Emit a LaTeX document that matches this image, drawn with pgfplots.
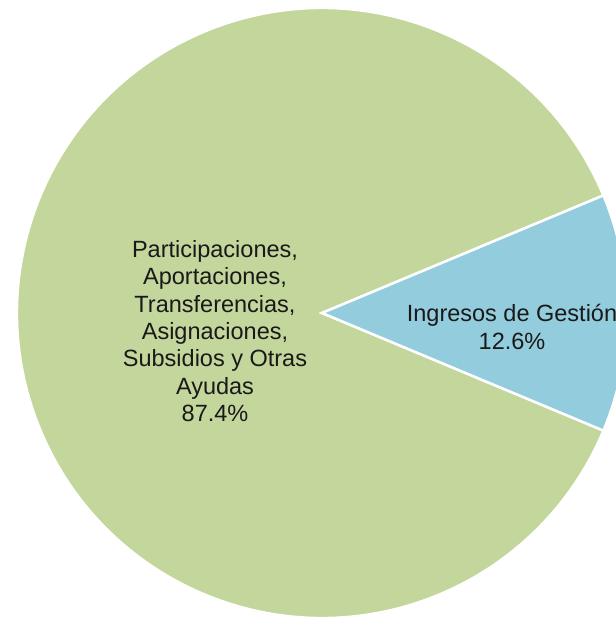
\documentclass[border=0pt]{standalone}
\usepackage{pgfplots}
\pgfplotsset{compat=1.18}
\usepackage{pgfplotstable}
\usepackage{fontspec}
\setmainfont{Liberation Sans}

\definecolor{pieGreen}{HTML}{C3D69B}
\definecolor{pieBlue}{HTML}{93CDDD}

% slice shares (percent)
\pgfplotstableread[col sep=comma]{
label,value
Ingresos,12.6
Participaciones,87.4
}\piedata

\begin{document}
\begin{tikzpicture}
\pgfplotstablegetelem{0}{value}\of\piedata \let\vIng\pgfplotsretval
\pgfplotstablegetelem{1}{value}\of\piedata \let\vPar\pgfplotsretval
\pgfmathsetmacro{\aA}{-\vIng*1.8}
\pgfmathsetmacro{\aB}{\vIng*1.8}
\pgfmathsetmacro{\aC}{\aB+\vPar*3.6}
\begin{axis}[
  width=616bp, height=620bp, scale only axis,
  xmin=0, xmax=616, ymin=0, ymax=620,
  hide axis, clip=true,
]
\fill[pieGreen, draw=white, line width=2.5bp, line join=miter]
  (axis cs:322,307) -- ++(\aB:305bp) arc[start angle=\aB, end angle=\aC, radius=305bp] -- cycle;
\fill[pieBlue, draw=white, line width=2.5bp, line join=miter]
  (axis cs:322,307) -- ++(\aA:305bp) arc[start angle=\aA, end angle=\aB, radius=305bp] -- cycle;
\node[anchor=north, inner sep=0pt, align=center, text=black!90,
  font=\fontsize{23.5bp}{27.4bp}\selectfont]
  at (axis cs:215,380) {Participaciones,\\Aportaciones,\\Transferencias,\\Asignaciones,\\Subsidios y Otras\\Ayudas\\87.4\%};
\node[anchor=north, inner sep=0pt, align=center, text=black!90,
  font=\fontsize{23.5bp}{28bp}\selectfont]
  at (axis cs:512,316) {Ingresos de Gestión\\12.6\%};
\end{axis}
\pgfresetboundingbox
\path[use as bounding box] (0,0) rectangle (616bp,620bp);
\end{tikzpicture}
\end{document}
